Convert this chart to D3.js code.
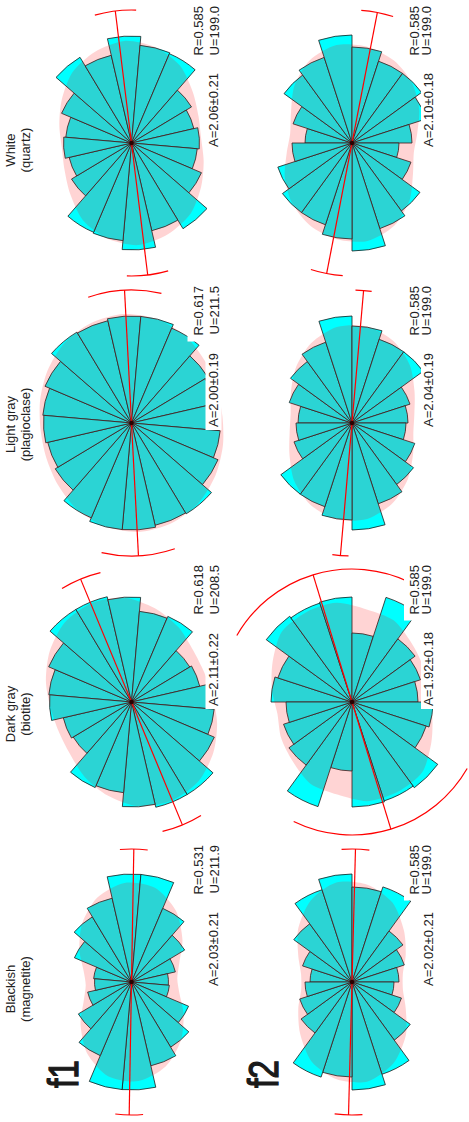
<!DOCTYPE html>
<html>
<head>
<meta charset="utf-8">
<script src="https://cdn.jsdelivr.net/npm/d3@7"></script>
<style>
  html, body { margin: 0; padding: 0; background: #fff; }
  svg { display: block; font-family: "Liberation Sans", Arial, Helvetica, sans-serif; }
</style>
</head>
<body>
<svg id="chart" width="469" height="1122"></svg>
<script>
// ---- data -------------------------------------------------------------
const rows = ["f1", "f2"];
const minerals = ["Blackish", "Dark gray", "Light gray", "White"];
const phases = ["(magnetite)", "(biotite)", "(plagioclase)", "(quartz)"];

// azimuth (deg) where the first 18° bin starts, per row
const binStart = [5, 0];

// axial rose bins: 10 bins of 18° over 0–180°, mirrored onto 180–360°
const f1Blackish  = [3.8, 6.2, 7.6, 8.6, 10.8, 10.8, 8.0, 6.2, 4.5, 3.7];
const f1DarkGray  = [8.3, 9.0, 10.8, 10.8, 10.5, 9.1, 9.3, 6.8, 7.0, 8.2];
const f1LightGray = [8.9, 9.4, 10.6, 10.5, 10.7, 10.7, 10.3, 8.9, 8.6, 8.8];
const f1White     = [6.6, 7.6, 10.0, 9.0, 10.7, 9.8, 9.7, 7.0, 6.4, 6.8];
const f2Blackish  = [4.2, 5.2, 7.2, 9.7, 10.8, 9.5, 10.0, 6.3, 5.5, 4.7];
const f2DarkGray  = [8.1, 7.8, 10.6, 10.4, 10.5, 6.9, 11.0, 7.8, 7.2, 6.6];
const f2LightGray = [5.4, 6.6, 7.6, 8.5, 10.7, 9.7, 8.8, 8.8, 6.1, 5.6];
const f2White     = [4.7, 6.2, 8.4, 9.0, 10.8, 9.6, 8.6, 8.6, 7.8, 6.0];

// mean axial direction (deg) and half-width of its confidence arc (deg)
const meanDirF1 = [91, 67.5, 87, 83];
const meanDirF2 = [91.5, 73, 95, 101];
const confHalfF1 = [6, 9, 16, 9];
const confHalfF2 = [6, 43, 3.5, 7];

const rLabelsF1 = ["R=0.531", "R=0.618", "R=0.617", "R=0.585"];
const rLabelsF2 = ["R=0.585", "R=0.585", "R=0.585", "R=0.585"];
const uLabelsF1 = ["U=211.9", "U=208.5", "U=211.5", "U=199.0"];
const uLabelsF2 = ["U=199.0", "U=199.0", "U=199.0", "U=199.0"];
const aLabelsF1 = ["A=2.03±0.21", "A=2.11±0.22", "A=2.00±0.19", "A=2.06±0.21"];
const aLabelsF2 = ["A=2.02±0.21", "A=1.92±0.18", "A=2.04±0.19", "A=2.10±0.18"];

const series   = [[f1Blackish, f1DarkGray, f1LightGray, f1White],
                  [f2Blackish, f2DarkGray, f2LightGray, f2White]];
const meanDir  = [meanDirF1, meanDirF2];
const confHalf = [confHalfF1, confHalfF2];
const rLabels  = [rLabelsF1, rLabelsF2];
const uLabels  = [uLabelsF1, uLabelsF2];
const aLabels  = [aLabelsF1, aLabelsF2];

// ---- layout (landscape page, turned a quarter to fit the portrait sheet) ----
const W = 1122, H = 469;
const colX = [140, 420, 699, 979];
const rowY = [131.5, 352];
const titleShift = [-7, -12, -1.5, -7];
const axisLen = 133;
const binWidth = 18;
const textBase = [{r: 71, u: 87, a: 86}, {r: 67, u: 79, a: 81}];

const svg = d3.select("#chart");
const page = svg.append("g").attr("transform", `translate(0,${W}) rotate(-90)`);

const rad = d => d * Math.PI / 180;
const radius = d3.scaleLinear().domain([0, 10]).range([0, 100]);
const arcGen = d3.arc().innerRadius(0);
const kernel = [1, 2, 3, 2, 1];

rows.forEach((row, ri) => {
  minerals.forEach((m, ci) => {
    const g = page.append("g").attr("transform", `translate(${colX[ci]},${rowY[ri]})`);
    const vals = series[ri][ci];
    const bins = d3.range(20).map(j => ({a0: binStart[ri] + j * binWidth, v: vals[j % 10]}));

    // rose petals
    g.append("g").selectAll("path").data(bins).join("path")
      .attr("d", d => arcGen({outerRadius: radius(d.v), startAngle: rad(d.a0), endAngle: rad(d.a0 + binWidth)}))
      .attr("fill", "#00ffff")
      .attr("stroke", "#1c1c1c")
      .attr("stroke-width", 0.8)
      .attr("stroke-linejoin", "round");

    // smoothed density envelope
    const smooth = bins.map((d, j) => {
      let s = 0, ws = 0;
      for (let k = -2; k <= 2; k++) {
        s += kernel[k + 2] * bins[(j + k + 20) % 20].v;
        ws += kernel[k + 2];
      }
      return {a: d.a0 + binWidth / 2, v: s / ws};
    });
    g.append("path").datum(smooth)
      .attr("d", d3.lineRadial()
        .angle(d => rad(d.a))
        .radius(d => radius(d.v) * 1.03)
        .curve(d3.curveCardinalClosed.tension(0.2)))
      .attr("fill", "#ff0000")
      .attr("fill-opacity", 0.17)
      .attr("stroke", "none");

    // mean direction axis with confidence arcs
    const a = meanDir[ri][ci], h = confHalf[ri][ci];
    const red = g.append("g").attr("stroke", "#ff0000").attr("fill", "none").attr("stroke-width", 1.2);
    red.append("line")
      .attr("x1", axisLen * Math.sin(rad(a))).attr("y1", -axisLen * Math.cos(rad(a)))
      .attr("x2", -axisLen * Math.sin(rad(a))).attr("y2", axisLen * Math.cos(rad(a)));
    [a, a + 180].forEach(c => {
      const p = d3.path();
      const s0 = rad(c - h - 90), s1 = rad(c + h - 90);
      p.moveTo(axisLen * Math.cos(s0), axisLen * Math.sin(s0));
      p.arc(0, 0, axisLen, s0, s1);
      red.append("path").attr("d", p.toString());
    });

    g.append("circle").attr("r", 2.2).attr("fill", "#2a0000");

    // statistics labels on white plates
    const lab = g.append("g").attr("font-size", 13).attr("fill", "#222");
    const tb = textBase[ri];
    const plateRU = lab.append("rect").attr("fill", "#fff");
    const tR = lab.append("text").attr("x", 137).attr("y", tb.r).attr("text-anchor", "end").text(rLabels[ri][ci]);
    const tU = lab.append("text").attr("x", 137).attr("y", tb.u).attr("text-anchor", "end").text(uLabels[ri][ci]);
    const plateA = lab.append("rect").attr("fill", "#fff");
    const tA = lab.append("text").attr("x", -4).attr("y", tb.a).attr("text-anchor", "start").text(aLabels[ri][ci]);

    const bR = tR.node().getBBox(), bU = tU.node().getBBox();
    const x0 = Math.min(bR.x, bU.x) - 6;
    plateRU.attr("x", x0).attr("y", bR.y - 3)
      .attr("width", 139 - x0).attr("height", bU.y + bU.height - bR.y + 4);
    const bA = tA.node().getBBox();
    plateA.attr("x", bA.x - 3).attr("y", bA.y)
      .attr("width", bA.width + 5).attr("height", bA.height + 1);

    // column titles over the first row
    if (ri === 0) {
      const t = page.append("g").attr("font-size", 13).attr("fill", "#222").attr("text-anchor", "middle");
      t.append("text").attr("x", colX[ci] + titleShift[ci]).attr("y", 15).text(m);
      t.append("text").attr("x", colX[ci] + titleShift[ci]).attr("y", 29.5).text(phases[ci]);
    }
  });

  // row label
  page.append("text")
    .attr("x", 34).attr("y", rowY[ri] + (ri === 0 ? -53.5 : -74))
    .attr("font-size", 42)
    .attr("fill", "#1a1a1a")
    .attr("stroke", "#1a1a1a")
    .attr("stroke-width", 1.3)
    .attr("textLength", 28)
    .attr("lengthAdjust", "spacingAndGlyphs")
    .text(row);
});
</script>
</body>
</html>
